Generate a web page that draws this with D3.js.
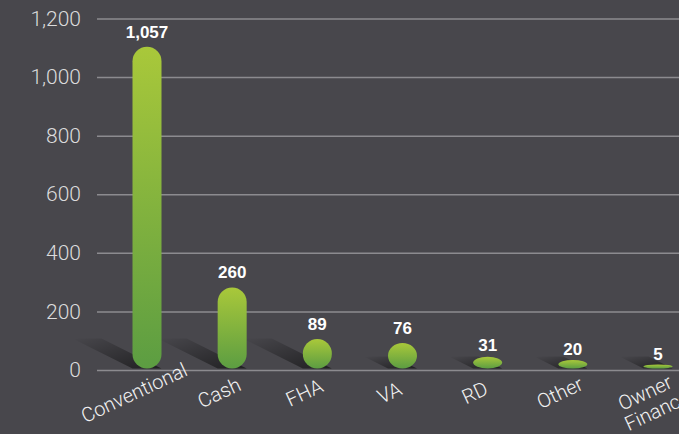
<!DOCTYPE html>
<html>
<head>
<meta charset="utf-8">
<script src="https://cdn.jsdelivr.net/npm/d3@7/dist/d3.min.js"></script>
<style>
  body { margin: 0; background: #48474c; }
  svg { display: block; }
</style>
</head>
<body>
<script>
// loan types and how many sales used each one
let categories = ["Conventional", "Cash", "FHA", "VA", "RD", "Other", "Owner Financed"];
let counts = [1057, 260, 89, 76, 31, 20, 5];
// y axis ticks
let tickValues = [0, 200, 400, 600, 800, 1000, 1200];

let width = 679;
let height = 434;
let barWidth = 29;
let lightFont = "'Helvetica Neue', Roboto, Lato, 'Liberation Sans', sans-serif";
let boldFont = "'Helvetica Neue', 'Liberation Sans', Arial, sans-serif";

let svg = d3.select("body")
    .append("svg")
    .attr("width", width)
    .attr("height", height)
    .style("background-color", "#48474c");

let defs = svg.append("defs");

// green gradient for the pills, light on top
let barGrad = defs.append("linearGradient")
    .attr("id", "barGrad")
    .attr("x1", 0).attr("y1", 0)
    .attr("x2", 0).attr("y2", 1);
barGrad.append("stop").attr("offset", "0%").attr("stop-color", "#a9c83a");
barGrad.append("stop").attr("offset", "100%").attr("stop-color", "#5c9d42");

// the shadow fades out away from the bar
let shadowGrad = defs.append("linearGradient")
    .attr("id", "shadowGrad")
    .attr("x1", 1).attr("y1", 1)
    .attr("x2", 0).attr("y2", 0);
shadowGrad.append("stop").attr("offset", "0%").attr("stop-color", "#000").attr("stop-opacity", 0.55);
shadowGrad.append("stop").attr("offset", "100%").attr("stop-color", "#000").attr("stop-opacity", 0);

//scale for the axis and gridlines
let yScale = d3.scaleLinear()
    .domain([0, 1200])
    .range([370, 18.5]);

//the pills are drawn a touch taller than the axis says, like the original
let barScale = d3.scaleLinear()
    .domain([0, 1200])
    .range([366, 3.6]);
let baseY = 368.5;

let xScale = d3.scalePoint()
    .domain(categories)
    .range([147, 658]);

//gridlines
let yAxis = d3.axisLeft(yScale)
    .tickValues(tickValues)
    .tickSize(-(width - 97))
    .tickPadding(16)
    .tickFormat(d3.format(","));

let axisG = svg.append("g")
    .attr("transform", "translate(97,0)")
    .call(yAxis);
axisG.select(".domain").remove();
axisG.selectAll(".tick line")
    .style("stroke", "#8c8b8f")
    .style("stroke-width", 1.5);
axisG.selectAll(".tick text")
    .style("fill", "#dcdcdc")
    .style("font-family", lightFont)
    .style("font-weight", 300)
    .style("font-size", "21px");

let data = categories.map(function (c, i) {
    return { name: c, value: counts[i] };
});

//shadows go first so the bars sit on top
svg.append("g")
    .selectAll("polygon")
    .data(data)
    .enter()
    .append("polygon")
    .attr("points", function (d) {
        let h = baseY - barScale(d.value);
        let depth = h > 26 ? 30 : 12;
        let len = depth * 2;
        let left = xScale(d.name) - barWidth / 2;
        let right = xScale(d.name) + barWidth / 2;
        return [
            [left, baseY],
            [right, baseY],
            [right - len, baseY - depth],
            [left - len, baseY - depth]
        ].map(p => p.join(",")).join(" ");
    })
    .style("fill", "url(#shadowGrad)");

svg.append("g")
    .selectAll("rect")
    .data(data)
    .enter()
    .append("rect")
    .attr("x", d => xScale(d.name) - barWidth / 2)
    .attr("y", d => barScale(d.value))
    .attr("width", barWidth)
    .attr("height", d => baseY - barScale(d.value))
    .attr("rx", barWidth / 2)
    .attr("ry", d => Math.min(barWidth / 2, (baseY - barScale(d.value)) / 2))
    .style("fill", "url(#barGrad)");

//value labels over each bar
svg.append("g")
    .selectAll("text")
    .data(data)
    .enter()
    .append("text")
    .attr("x", d => xScale(d.name))
    .attr("y", function (d) {
        let h = baseY - barScale(d.value);
        return barScale(d.value) - Math.min(9, 3 + h * 0.25);
    })
    .attr("text-anchor", "middle")
    .text(d => d3.format(",")(d.value))
    .style("fill", "#ffffff")
    .style("font-family", boldFont)
    .style("font-weight", "bold")
    .style("font-size", "17px");

//slanted category labels
let labels = svg.append("g")
    .selectAll("text")
    .data(data)
    .enter()
    .append("text")
    .attr("transform", d => "translate(" + (xScale(d.name) - 10) + ",399) rotate(-25)")
    .attr("text-anchor", "middle")
    .style("fill", "#f2f2f2")
    .style("font-family", lightFont)
    .style("font-weight", 300)
    .style("font-size", "20px");

labels.each(function (d) {
    let words = d.name.split(" ");
    let t = d3.select(this);
    words.forEach(function (w, i) {
        t.append("tspan")
            .attr("x", i * 9)
            .attr("y", i * 21)
            .text(w);
    });
});
</script>
</body>
</html>
